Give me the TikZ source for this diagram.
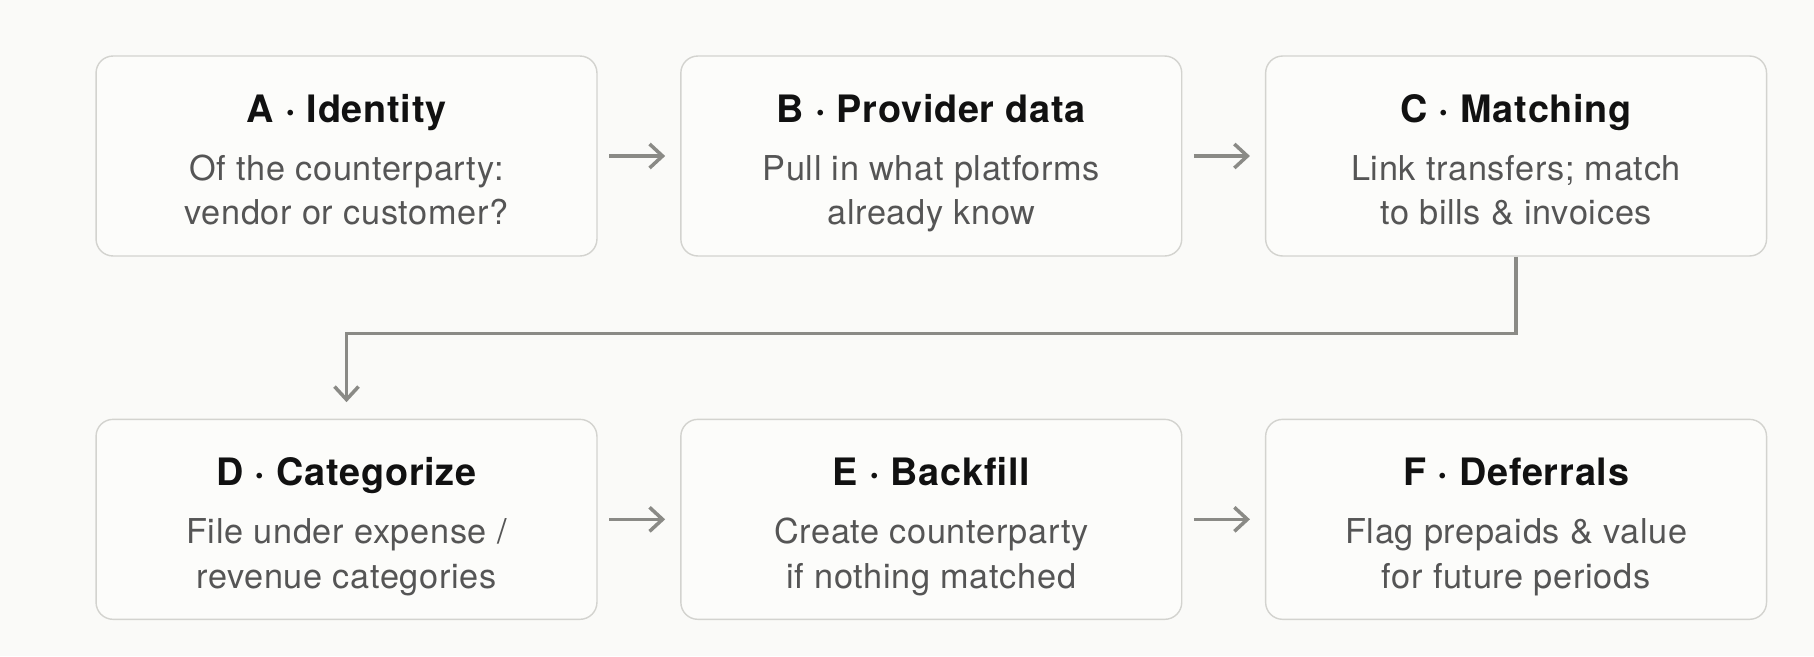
\documentclass[tikz,border=0pt]{standalone}
\usepackage{fontspec}
\setmainfont{TeX Gyre Heros}[LetterSpace=2]
\usetikzlibrary{positioning, arrows.meta}
\definecolor{pagebg}{HTML}{FAFAF8}
\definecolor{cardline}{HTML}{D3D3CF}
\definecolor{cardfill}{HTML}{FCFCFA}
\definecolor{flowgray}{HTML}{8A8A86}
\definecolor{titleink}{HTML}{111111}
\definecolor{descink}{HTML}{555555}
\tikzset{
  card/.style={draw=cardline, fill=cardfill, line width=0.8pt, rounded corners=0.34cm,
    minimum width=10.02cm, minimum height=4cm},
  cardtitle/.style={anchor=base, text=titleink, font=\fontsize{21.5}{26}\selectfont\bfseries},
  carddesc/.style={anchor=base, text=descink, align=center, font=\fontsize{19.5}{25.6}\selectfont},
  flow/.style={draw=flowgray, line width=2pt, -{Straight Barb[length=0.26cm, width=0.48cm]}},
}

\begin{document}
\begin{tikzpicture}[x=0.02cm, y=-0.02cm, node distance=1.65cm]
\fill[pagebg] (0,0) rectangle (1814,656);
\useasboundingbox (0,0) rectangle (1814,656);
% top row of cards
\node[card] (A) at (346.5,156) {};
\node[card, right=of A] (B) {};
\node[card, right=of B] (C) {};
% bottom row of cards
\node[card, below=3.24cm of A] (D) {};
\node[card, right=of D] (E) {};
\node[card, right=of E] (F) {};
% titles
\node[cardtitle] (Atitle) at ([yshift=0.68cm]A.center) {A · Identity};
\node[cardtitle] (Btitle) at ([yshift=0.68cm]B.center) {B · Provider data};
\node[cardtitle] (Ctitle) at ([yshift=0.68cm]C.center) {C · Matching};
\node[cardtitle] (Dtitle) at ([yshift=0.68cm]D.center) {D · Categorize};
\node[cardtitle] (Etitle) at ([yshift=0.68cm]E.center) {E · Backfill};
\node[cardtitle] (Ftitle) at ([yshift=0.68cm]F.center) {F · Deferrals};
% descriptions (base = last line)
\node[carddesc] (Adesc) at ([yshift=-1.38cm]A.center) {Of the counterparty:\\vendor or customer?};
\node[carddesc] (Bdesc) at ([yshift=-1.38cm]B.center) {Pull in what platforms\\already know};
\node[carddesc] (Cdesc) at ([yshift=-1.38cm]C.center) {Link transfers; match\\to bills \& invoices};
\node[carddesc] (Ddesc) at ([yshift=-1.38cm]D.center) {File under expense /\\revenue categories};
\node[carddesc] (Edesc) at ([yshift=-1.38cm]E.center) {Create counterparty\\if nothing matched};
\node[carddesc] (Fdesc) at ([yshift=-1.38cm]F.center) {Flag prepaids \& value\\for future periods};
% arrows
\draw[flow] ([xshift=0.23cm]A.east) -- ([xshift=-0.3cm]B.west);
\draw[flow] ([xshift=0.23cm]B.east) -- ([xshift=-0.3cm]C.west);
\draw[flow] ([xshift=0.23cm]D.east) -- ([xshift=-0.3cm]E.west);
\draw[flow] ([xshift=0.23cm]E.east) -- ([xshift=-0.3cm]F.west);
\draw[flow] (C.south) -- ++(0,77) -| ([yshift=0.33cm]D.north);
\end{tikzpicture}
\end{document}
